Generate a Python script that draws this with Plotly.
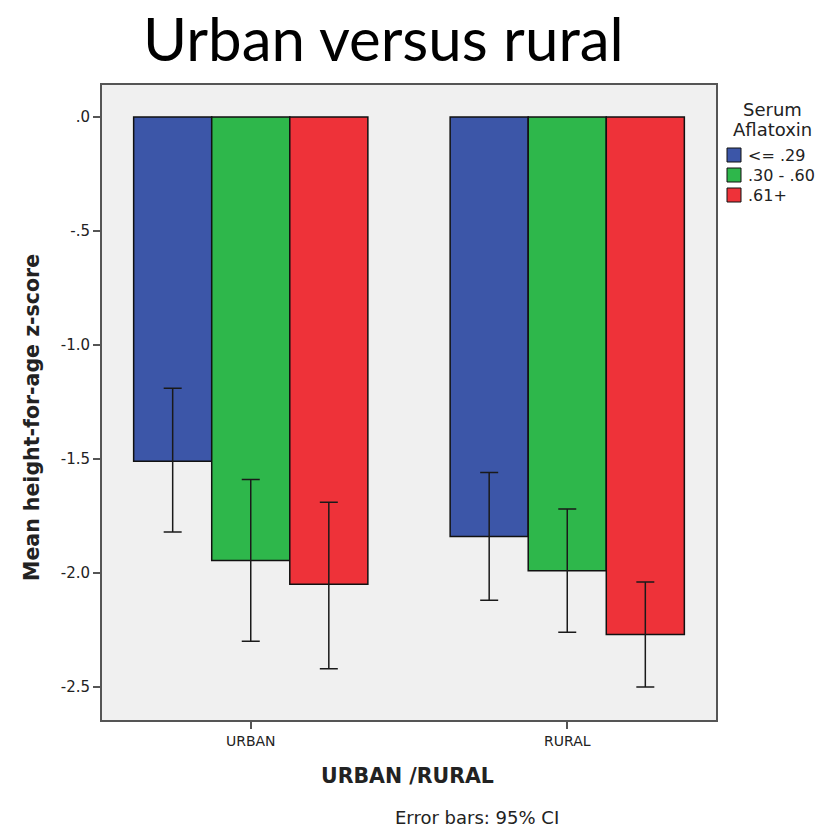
import plotly.graph_objects as go

# Categories and groups
areas = ["URBAN", "RURAL"]
groups = ["<= .29", ".30 - .60", ".61+"]
colors = ["#3c56a8", "#2eb74b", "#ee3239"]

# Mean height-for-age z-score per group, by area
means = {
    "<= .29":    [-1.51, -1.84],
    ".30 - .60": [-1.945, -1.99],
    ".61+":      [-2.05, -2.27],
}
# 95% CI bounds
ci_low = {
    "<= .29":    [-1.82, -2.12],
    ".30 - .60": [-2.30, -2.26],
    ".61+":      [-2.42, -2.50],
}
ci_high = {
    "<= .29":    [-1.19, -1.56],
    ".30 - .60": [-1.59, -1.72],
    ".61+":      [-1.69, -2.04],
}

y_ticks = [0, -0.5, -1.0, -1.5, -2.0, -2.5]
y_tick_text = [".0", "-.5", "-1.0", "-1.5", "-2.0", "-2.5"]

FONT = "DejaVu Sans"
INK = "#222222"
W, H = 832, 829
ML, MR, MT, MB = 102, 116, 85, 109
PH = H - MT - MB
PW = W - ML - MR


def py(p):
    # pixel row -> paper y
    return 1 + (MT - p) / PH


def px(p):
    # pixel column -> paper x
    return (p - ML) / PW


fig = go.Figure()
for g, c in zip(groups, colors):
    m = means[g]
    fig.add_trace(go.Bar(
        x=areas, y=m, name=g,
        marker=dict(color=c, line=dict(color="#111111", width=1.5)),
        error_y=dict(
            type="data", symmetric=False,
            array=[h - v for h, v in zip(ci_high[g], m)],
            arrayminus=[v - l for v, l in zip(m, ci_low[g])],
            color="#1a1a1a", thickness=1.5, width=9,
        ),
        showlegend=False,
    ))

fig.update_layout(
    width=W, height=H,
    margin=dict(l=ML, r=MR, t=MT, b=MB),
    paper_bgcolor="white",
    plot_bgcolor="#f0f0f0",
    barmode="group",
    bargap=0.26,
    bargroupgap=0,
    font=dict(family=FONT, color=INK),
    xaxis=dict(
        range=[-0.47, 1.47],
        showline=True, linecolor="#555555", linewidth=2, mirror=True,
        ticks="outside", ticklen=7, tickcolor="#555555", tickwidth=1.5,
        tickfont=dict(size=14, family=FONT, color=INK),
        showgrid=False,
    ),
    yaxis=dict(
        range=[-2.645, 0.14],
        tickvals=y_ticks, ticktext=y_tick_text,
        showline=True, linecolor="#555555", linewidth=2, mirror=True,
        ticks="outside", ticklen=7, tickcolor="#555555", tickwidth=1.5,
        tickfont=dict(size=15, family=FONT, color=INK),
        showgrid=False, zeroline=False,
    ),
)

# Axis titles
fig.add_annotation(
    text="<b>Mean height-for-age z-score</b>", xref="paper", yref="paper",
    x=px(32), y=py(418), xanchor="center", yanchor="middle", textangle=-90,
    showarrow=False, font=dict(size=20.5, family=FONT, color=INK),
)
fig.add_annotation(
    text="<b>URBAN /RURAL</b>", xref="paper", yref="paper",
    x=px(407), y=py(776), xanchor="center", yanchor="middle",
    showarrow=False, font=dict(size=20.5, family=FONT, color=INK),
)

# Chart title
fig.add_annotation(
    text="Urban versus rural", xref="paper", yref="paper",
    x=px(383), y=py(38), xanchor="center", yanchor="middle",
    showarrow=False, font=dict(size=60, family="Lato", color="#000000"),
)

# Legend: title, swatches and labels
fig.add_annotation(
    text="Serum", xref="paper", yref="paper",
    x=px(772), y=py(109), xanchor="center", yanchor="middle",
    showarrow=False, font=dict(size=18, family=FONT, color=INK),
)
fig.add_annotation(
    text="Aflatoxin", xref="paper", yref="paper",
    x=px(772), y=py(129), xanchor="center", yanchor="middle",
    showarrow=False, font=dict(size=18, family=FONT, color=INK),
)
for i, (g, c) in enumerate(zip(groups, colors)):
    top = 148 + 20 * i
    fig.add_shape(
        type="rect", xref="paper", yref="paper",
        x0=px(727), x1=px(741), y0=py(top), y1=py(top + 14),
        fillcolor=c, line=dict(color="#111111", width=1),
    )
    fig.add_annotation(
        text=g, xref="paper", yref="paper",
        x=px(746), y=py(top + 7), xanchor="left", yanchor="middle",
        showarrow=False, font=dict(size=16, family=FONT, color=INK),
    )

# Footnote
fig.add_annotation(
    text="Error bars: 95% CI", xref="paper", yref="paper",
    x=px(477), y=py(817), xanchor="center", yanchor="middle",
    showarrow=False, font=dict(size=18, family=FONT, color=INK),
)

fig.write_html("out.html")
